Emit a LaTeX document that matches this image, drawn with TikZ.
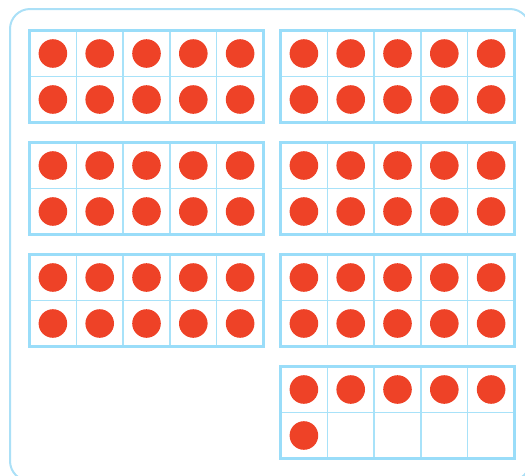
\documentclass[tikz,border=0pt]{standalone}
\definecolor{framebl}{HTML}{9ADDF9}
\definecolor{gridbl}{HTML}{A8E2F9}
\definecolor{outerbl}{HTML}{ABE0F7}
\definecolor{dotred}{HTML}{EE4227}
\tikzset{
  outerbox/.style={draw=outerbl,line width=2pt,rounded corners=20pt},
  framebox/.style={draw=framebl,line width=3.8pt},
  gridline/.style={draw=gridbl,line width=1.5pt},
  counter/.style={fill=dotred}
}
\newcommand{\tenframe}[3]{% x, y (top-left), number of dots
  \foreach \i in {1,...,4} {\draw[gridline] (#1+\i*46.8,#2) -- (#1+\i*46.8,#2+92);}
  \draw[gridline] (#1,#2+46) -- (#1+234,#2+46);
  \foreach \k in {1,...,#3} {
    \pgfmathtruncatemacro{\r}{int((\k-1)/5)}
    \pgfmathtruncatemacro{\c}{mod(\k-1,5)}
    \fill[counter] (#1+23.4+\c*46.8,#2+23+\r*46) circle (14.3);
  }
  \draw[framebox] (#1,#2) rectangle (#1+234,#2+92);
}
\begin{document}
\begin{tikzpicture}[x=1pt,y=-1pt]
\useasboundingbox (0,0) rectangle (525,475);
\clip (0,0) rectangle (525,475);
\draw[outerbox] (10,9) rectangle (530,481);
\tenframe{29.5}{30.5}{10}
\tenframe{280.5}{30.5}{10}
\tenframe{29.5}{142.5}{10}
\tenframe{280.5}{142.5}{10}
\tenframe{29.5}{254.5}{10}
\tenframe{280.5}{254.5}{10}
\tenframe{280.5}{366.5}{6}
\end{tikzpicture}
\end{document}
